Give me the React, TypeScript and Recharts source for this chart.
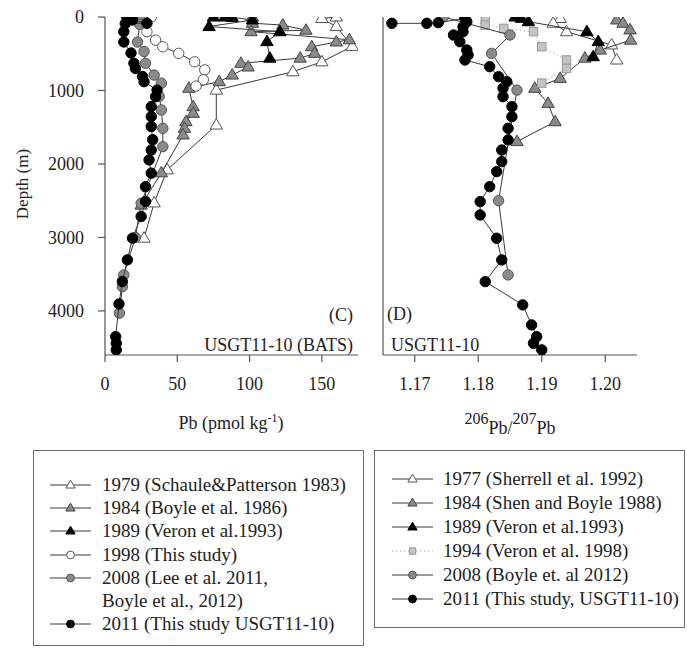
import React from 'react';
import { ScatterChart, Scatter, XAxis, YAxis } from 'recharts';

const FONT = '"Liberation Serif", "Times New Roman", Times, serif';
const AXIS = '#555';
const TEXT = '#222';
const LINE = '#3a3a3a';

// ---------- Panel (C): Pb concentration (pmol/kg) vs depth (m) ----------
const pb1979 = [
  { d: 0, v: 160 }, { d: 20, v: 150 }, { d: 130, v: 160 }, { d: 400, v: 171 },
  { d: 610, v: 150 }, { d: 745, v: 130 }, { d: 995, v: 77 }, { d: 1470, v: 77 },
  { d: 2080, v: 43 }, { d: 2530, v: 34 }, { d: 3010, v: 27 },
];
const pb1984 = [
  { d: 0, v: 102 }, { d: 85, v: 102 }, { d: 110, v: 123 }, { d: 180, v: 139 },
  { d: 200, v: 101 }, { d: 310, v: 169 }, { d: 340, v: 160 }, { d: 405, v: 143 },
  { d: 495, v: 145 }, { d: 560, v: 135 }, { d: 630, v: 94 }, { d: 680, v: 99 },
  { d: 790, v: 88 }, { d: 880, v: 79 }, { d: 970, v: 58 }, { d: 1220, v: 61 },
  { d: 1310, v: 61 }, { d: 1425, v: 56 }, { d: 1515, v: 55 }, { d: 1605, v: 54 },
  { d: 2120, v: 39 }, { d: 2560, v: 25 },
];
const pb1989 = [
  { d: 0, v: 75 }, { d: 0, v: 83 }, { d: 5, v: 88 }, { d: 40, v: 102 },
  { d: 130, v: 72 }, { d: 200, v: 121 }, { d: 335, v: 112 }, { d: 560, v: 114 },
];
const pb1998 = [
  { d: 0, v: 32 }, { d: 200, v: 29 }, { d: 315, v: 35 }, { d: 405, v: 40 },
  { d: 495, v: 51 }, { d: 610, v: 62 }, { d: 720, v: 69 }, { d: 855, v: 68 },
  { d: 940, v: 63 },
];
const pb2008 = [
  { d: 0, v: 26 }, { d: 100, v: 24 }, { d: 340, v: 22.5 }, { d: 470, v: 27 },
  { d: 630, v: 28 }, { d: 790, v: 34 }, { d: 900, v: 39 }, { d: 1080, v: 37.5 },
  { d: 1265, v: 39 }, { d: 1515, v: 40 }, { d: 1765, v: 40 }, { d: 2535, v: 25 },
  { d: 3000, v: 21 }, { d: 3510, v: 13 }, { d: 3670, v: 12 }, { d: 4030, v: 10 },
];
const pb2011 = [
  { d: 0, v: 15 }, { d: 40, v: 19 }, { d: 85, v: 29 }, { d: 90, v: 14 },
  { d: 200, v: 13 }, { d: 340, v: 13 }, { d: 490, v: 18 }, { d: 630, v: 20 },
  { d: 700, v: 21 }, { d: 810, v: 26 }, { d: 880, v: 27 }, { d: 995, v: 36 },
  { d: 1085, v: 35 }, { d: 1220, v: 32 }, { d: 1355, v: 32 }, { d: 1490, v: 32 },
  { d: 1670, v: 33 }, { d: 1810, v: 32 }, { d: 1945, v: 30.5 }, { d: 2125, v: 32 },
  { d: 2310, v: 28 }, { d: 2510, v: 28 }, { d: 2715, v: 25 }, { d: 3010, v: 19 },
  { d: 3305, v: 15.5 }, { d: 3600, v: 12 }, { d: 3905, v: 9.7 }, { d: 4350, v: 7.4 },
  { d: 4440, v: 7.8 }, { d: 4530, v: 7.8 },
];

// ---------- Panel (D): 206Pb/207Pb vs depth (m) ----------
const r1977 = [
  { d: 20, v: 1.1929 }, { d: 85, v: 1.1918 }, { d: 200, v: 1.1939 },
  { d: 380, v: 1.201 }, { d: 585, v: 1.2018 },
];
const r1984 = [
  { d: 40, v: 1.2018 }, { d: 85, v: 1.2028 }, { d: 175, v: 1.2039 }, { d: 315, v: 1.204 },
  { d: 450, v: 1.1992 }, { d: 560, v: 1.1968 }, { d: 835, v: 1.1929 }, { d: 970, v: 1.1889 },
  { d: 1175, v: 1.191 }, { d: 1425, v: 1.1921 }, { d: 1695, v: 1.1861 },
];
const r1989 = [
  { d: 0, v: 1.1858 }, { d: 18, v: 1.1868 }, { d: 64, v: 1.1879 },
  { d: 200, v: 1.1971 }, { d: 335, v: 1.1989 }, { d: 540, v: 1.1981 },
];
const r1994 = [
  { d: 40, v: 1.1811 }, { d: 110, v: 1.1811 }, { d: 155, v: 1.184 }, { d: 200, v: 1.1887 },
  { d: 405, v: 1.19 }, { d: 585, v: 1.1939 }, { d: 700, v: 1.1939 }, { d: 900, v: 1.19 },
];
const r2008 = [
  { d: 0, v: 1.1745 }, { d: 245, v: 1.185 }, { d: 495, v: 1.1821 },
  { d: 995, v: 1.1861 }, { d: 2500, v: 1.1832 }, { d: 3510, v: 1.1847 },
];
const r2011 = [
  { d: 86, v: 1.1664 }, { d: 86, v: 1.1719 }, { d: 77, v: 1.1737 }, { d: 18, v: 1.1779 },
  { d: 64, v: 1.1782 }, { d: 132, v: 1.1776 }, { d: 200, v: 1.1776 }, { d: 245, v: 1.1761 },
  { d: 336, v: 1.1771 }, { d: 449, v: 1.1782 }, { d: 517, v: 1.1784 }, { d: 585, v: 1.1779 },
  { d: 676, v: 1.1818 }, { d: 812, v: 1.1832 }, { d: 880, v: 1.1845 }, { d: 970, v: 1.1839 },
  { d: 1084, v: 1.1839 }, { d: 1220, v: 1.1853 }, { d: 1356, v: 1.1853 }, { d: 1515, v: 1.1847 },
  { d: 1673, v: 1.1847 }, { d: 1810, v: 1.1837 }, { d: 1968, v: 1.1837 }, { d: 2104, v: 1.1829 },
  { d: 2309, v: 1.1818 }, { d: 2512, v: 1.1803 }, { d: 2694, v: 1.1803 }, { d: 3011, v: 1.1829 },
  { d: 3306, v: 1.1837 }, { d: 3601, v: 1.1811 }, { d: 3918, v: 1.187 }, { d: 4190, v: 1.1884 },
  { d: 4350, v: 1.1892 }, { d: 4440, v: 1.1887 }, { d: 4530, v: 1.19 },
];

// ---------- ticks & labels ----------
const depthDomain = [0, 4600];
const depthTicks = [0, 1000, 2000, 3000, 4000];
const depthTicksRight = [1000, 2000, 3000, 4000];
const pbDomain = [0, 175];
const pbTicks = [0, 50, 100, 150];
const ratioDomain = [1.165, 1.205];
const ratioTicks = [1.17, 1.18, 1.19, 1.2];

const legendLeft = [
  '1979 (Schaule&Patterson 1983)',
  '1984 (Boyle et al. 1986)',
  '1989 (Veron et al.1993)',
  '1998 (This study)',
  '2008 (Lee et al. 2011,',
  'Boyle et al., 2012)',
  '2011 (This study USGT11-10)',
];
const legendRight = [
  '1977 (Sherrell et al. 1992)',
  '1984 (Shen and Boyle 1988)',
  '1989 (Veron et al.1993)',
  '1994 (Veron et al. 1998)',
  '2008 (Boyle et. al 2012)',
  '2011 (This study, USGT11-10)',
];

type Style = { kind: 'tri' | 'circ' | 'sq'; fill: string; stroke: string; dotted?: boolean };

const S_WTRI: Style = { kind: 'tri', fill: '#fff', stroke: '#555' };
const S_GTRI: Style = { kind: 'tri', fill: '#8a8a8a', stroke: '#444' };
const S_BTRI: Style = { kind: 'tri', fill: '#000', stroke: '#000' };
const S_WCIR: Style = { kind: 'circ', fill: '#fff', stroke: '#555' };
const S_GCIR: Style = { kind: 'circ', fill: '#8a8a8a', stroke: '#555' };
const S_BCIR: Style = { kind: 'circ', fill: '#000', stroke: '#000' };
const S_GSQ: Style = { kind: 'sq', fill: '#c4c4c4', stroke: '#999', dotted: true };

function marker(st: Style, cx: number, cy: number, s: number) {
  if (st.kind === 'tri') {
    const h = 6.5 * s;
    const w = 6.2 * s;
    return (
      <polygon
        points={`${cx},${cy - h} ${cx - w},${cy + h * 0.62} ${cx + w},${cy + h * 0.62}`}
        fill={st.fill}
        stroke={st.stroke}
        strokeWidth={1}
      />
    );
  }
  if (st.kind === 'sq') {
    return (
      <rect x={cx - 4.2 * s} y={cy - 4.2 * s} width={8.4 * s} height={8.4 * s} fill={st.fill} stroke={st.stroke} strokeWidth={1} />
    );
  }
  return <circle cx={cx} cy={cy} r={5.2 * s} fill={st.fill} stroke={st.stroke} strokeWidth={1} />;
}

const shapeFor = (st: Style) => (p: any) => {
  if (p == null || p.cx == null || p.cy == null) return <g />;
  return marker(st, p.cx, p.cy, 1);
};

const leftSeries = [
  { data: pb1979, st: S_WTRI },
  { data: pb1984, st: S_GTRI },
  { data: pb1989, st: S_BTRI },
  { data: pb1998, st: S_WCIR },
  { data: pb2008, st: S_GCIR },
  { data: pb2011, st: S_BCIR },
];
const rightSeries = [
  { data: r1977, st: S_WTRI },
  { data: r1984, st: S_GTRI },
  { data: r1989, st: S_BTRI },
  { data: r1994, st: S_GSQ },
  { data: r2008, st: S_GCIR },
  { data: r2011, st: S_BCIR },
];

const tickStyle = { fontSize: 18, fill: TEXT, fontFamily: FONT };

function Panel(props: {
  left: number;
  width: number;
  margin: { top: number; right: number; bottom: number; left: number };
  yWidth: number;
  xDomain: number[];
  xTicks: number[];
  yTicks: number[];
  showYLabels: boolean;
  fmt: (v: number) => string;
  series: { data: { d: number; v: number }[]; st: Style }[];
}) {
  const { left, width, margin, yWidth, xDomain, xTicks, yTicks, showYLabels, fmt, series } = props;
  return (
    <div style={{ position: 'absolute', left, top: 0 }}>
      <ScatterChart width={width} height={450} margin={margin}>
        <XAxis
          xAxisId="b"
          type="number"
          dataKey="v"
          domain={xDomain}
          ticks={xTicks}
          interval={0}
          allowDataOverflow
          tickFormatter={fmt}
          tickSize={7}
          tickMargin={15}
          height={40}
          axisLine={{ stroke: AXIS, strokeWidth: 1.2 }}
          tickLine={{ stroke: AXIS, strokeWidth: 1.2 }}
          tick={tickStyle}
        />
        <XAxis
          xAxisId="t"
          orientation="top"
          type="number"
          domain={xDomain}
          ticks={xTicks.filter((t) => t !== xDomain[0])}
          interval={0}
          allowDataOverflow
          tick={false}
          tickSize={7}
          height={0}
          axisLine={{ stroke: AXIS, strokeWidth: 1.2 }}
          tickLine={{ stroke: AXIS, strokeWidth: 1.2 }}
        />
        <YAxis
          yAxisId="l"
          type="number"
          dataKey="d"
          reversed
          domain={depthDomain}
          ticks={yTicks}
          interval={0}
          allowDataOverflow
          width={yWidth}
          tickSize={7}
          tickMargin={14}
          axisLine={{ stroke: AXIS, strokeWidth: 1.2 }}
          tickLine={{ stroke: AXIS, strokeWidth: 1.2 }}
          tick={showYLabels ? tickStyle : false}
        />
        <YAxis
          yAxisId="r"
          orientation="right"
          type="number"
          reversed
          domain={depthDomain}
          allowDataOverflow
          width={0}
          tick={false}
          tickLine={false}
          axisLine={{ stroke: AXIS, strokeWidth: 1.2 }}
        />
        {series.map((s, i) => (
          <Scatter
            key={i}
            xAxisId="b"
            yAxisId="l"
            data={s.data}
            shape={shapeFor(s.st)}
            line={
              s.st.dotted
                ? { stroke: '#b5b5b5', strokeWidth: 1, strokeDasharray: '1.5 2.5' }
                : { stroke: LINE, strokeWidth: 1 }
            }
            lineType="joint"
            isAnimationActive={false}
          />
        ))}
      </ScatterChart>
    </div>
  );
}

function LegendBox(props: {
  left: number;
  top: number;
  width: number;
  height: number;
  labels: string[];
  styles: (Style | null)[];
  firstRow: number;
  step: number;
  lineX0: number;
  lineX1: number;
  textX: number;
}) {
  const { left, top, width, height, labels, styles, firstRow, step, lineX0, lineX1, textX } = props;
  return (
    <div
      style={{
        position: 'absolute',
        left,
        top,
        width,
        height,
        border: '1.5px solid #6a6a6a',
        boxSizing: 'border-box',
        fontFamily: FONT,
        fontSize: 19,
        color: TEXT,
      }}
    >
      {labels.map((lab, i) => {
        const cy = firstRow + i * step;
        const st = styles[i];
        return (
          <div key={i} style={{ position: 'absolute', left: 0, top: cy - 12, height: 24, width: width - 4 }}>
            {st && (
              <svg width={lineX1 + 4} height={24} style={{ position: 'absolute', left: 0, top: 0 }}>
                <line
                  x1={lineX0}
                  x2={lineX1}
                  y1={12}
                  y2={12}
                  stroke={st.dotted ? '#b5b5b5' : LINE}
                  strokeWidth={1.2}
                  strokeDasharray={st.dotted ? '1.5 2.5' : undefined}
                />
                {marker(st, (lineX0 + lineX1) / 2, 12, 0.75)}
              </svg>
            )}
            <span style={{ position: 'absolute', left: textX, top: 0, lineHeight: '24px', whiteSpace: 'nowrap' }}>
              {lab}
            </span>
          </div>
        );
      })}
    </div>
  );
}

export default function App() {
  return (
    <div style={{ position: 'absolute', left: 0, top: 0, width: 687, height: 648, background: '#fff', overflow: 'hidden' }}>
      <Panel
        left={0}
        width={370}
        margin={{ top: 17, right: 12, bottom: 55, left: 45 }}
        yWidth={60}
        xDomain={pbDomain}
        xTicks={pbTicks}
        yTicks={depthTicks}
        showYLabels={true}
        fmt={(v) => String(v)}
        series={leftSeries}
      />
      <Panel
        left={370}
        width={317}
        margin={{ top: 17, right: 50, bottom: 55, left: 3 }}
        yWidth={10}
        xDomain={ratioDomain}
        xTicks={ratioTicks}
        yTicks={depthTicksRight}
        showYLabels={false}
        fmt={(v) => v.toFixed(2)}
        series={rightSeries}
      />
      <svg
        width={687}
        height={648}
        style={{ position: 'absolute', left: 0, top: 0, pointerEvents: 'none' }}
        fontFamily={FONT}
        fill={TEXT}
      >
        <text x={22} y={184} transform="rotate(-90 22 184)" textAnchor="middle" dominantBaseline="central" fontSize={17}>
          Depth (m)
        </text>
        <text x={231} y={429} textAnchor="middle" fontSize={18}>
          Pb (pmol kg<tspan dy={-7} fontSize={12}>-1</tspan>
          <tspan dy={7}>)</tspan>
        </text>
        <text x={510} y={434} textAnchor="middle" fontSize={18}>
          <tspan dy={-10} fontSize={16}>206</tspan>
          <tspan dy={10}>Pb/</tspan>
          <tspan dy={-10} fontSize={16}>207</tspan>
          <tspan dy={10}>Pb</tspan>
        </text>
        <text x={353} y={321} textAnchor="end" fontSize={18}>(C)</text>
        <text x={353} y={351} textAnchor="end" fontSize={18}>USGT11-10 (BATS)</text>
        <text x={387} y={320} textAnchor="start" fontSize={18}>(D)</text>
        <text x={391} y={351} textAnchor="start" fontSize={18}>USGT11-10</text>
      </svg>
      <LegendBox
        left={33}
        top={450}
        width={331}
        height={196}
        labels={legendLeft}
        styles={[S_WTRI, S_GTRI, S_BTRI, S_WCIR, S_GCIR, null, S_BCIR]}
        firstRow={34}
        step={23.2}
        lineX0={16}
        lineX1={57}
        textX={68}
      />
      <LegendBox
        left={374}
        top={450}
        width={311}
        height={178}
        labels={legendRight}
        styles={[S_WTRI, S_GTRI, S_BTRI, S_GSQ, S_GCIR, S_BCIR]}
        firstRow={28}
        step={24}
        lineX0={17}
        lineX1={58}
        textX={68}
      />
    </div>
  );
}
